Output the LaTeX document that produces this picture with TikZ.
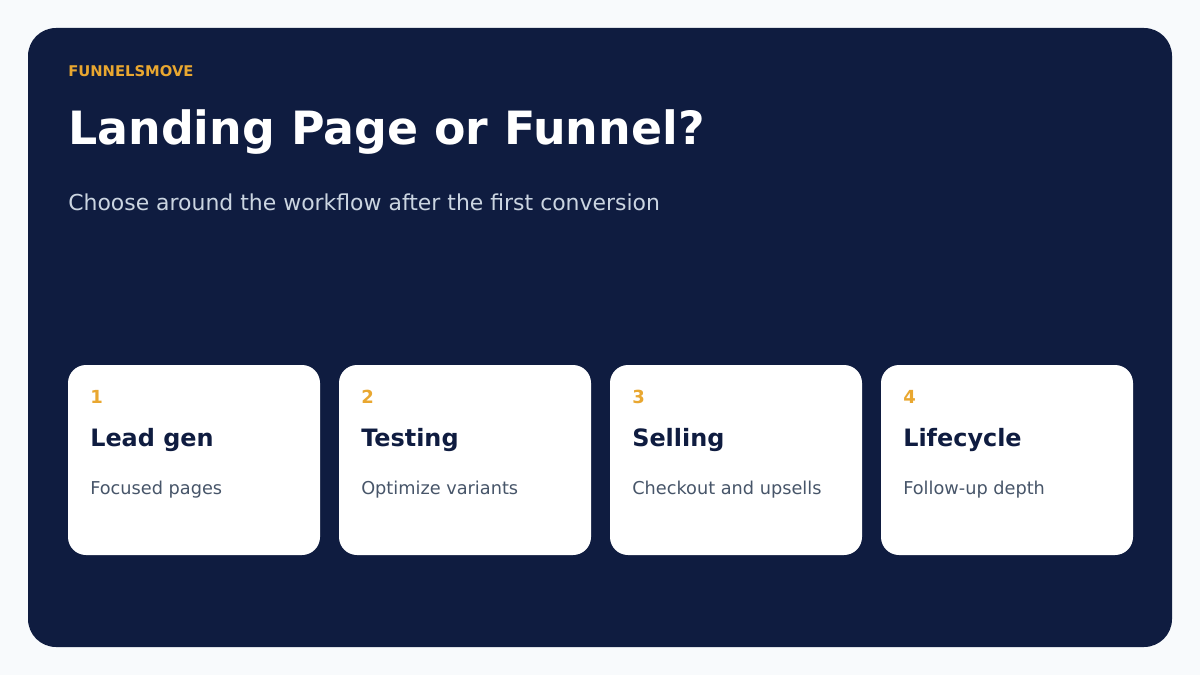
\documentclass[tikz,border=0pt]{standalone}
\usepackage{fontspec}
\setmainfont{DejaVu Sans}
\usetikzlibrary{positioning}
\definecolor{pagebg}{HTML}{F8FAFC}
\definecolor{navy}{HTML}{0F1C40}
\definecolor{amber}{HTML}{E9A730}
\definecolor{subtle}{HTML}{CBD5E1}
\definecolor{slate}{HTML}{475569}

\begin{document}
\begin{tikzpicture}[x=0.025cm, y=-0.025cm]
    % styles
    \tikzset{
        panel/.style={fill=navy, rounded corners=0.7cm},
        card/.style={fill=white, rounded corners=0.45cm},
        txt/.style={anchor=base west, inner sep=0pt},
        num/.style={txt, text=amber, font=\bfseries\fontsize{12.8}{14}\selectfont},
        head/.style={txt, text=navy, font=\bfseries\fontsize{17}{20}\selectfont},
        desc/.style={txt, text=slate, font=\fontsize{12.6}{15}\selectfont}
    }

    % background
    \fill[pagebg] (0,0) rectangle (1200,675);
    \fill[panel] (28,28) rectangle (1172,647);

    % header
    \node[txt, text=amber, font=\bfseries\fontsize{10.5}{12}\selectfont] (brand) at (68,77) {FUNNELSMOVE};
    \node[txt, text=white, font=\bfseries\fontsize{32.6}{40}\selectfont] (title) at (68,145) {Landing Page or Funnel?};
    \node[txt, text=subtle, font=\fontsize{15.6}{18}\selectfont] (subtitle) at (68,210) {Choose around the workflow after the first conversion};

    % cards
    \foreach \i/\x/\name/\sub in {1/68/Lead gen/Focused pages,
                                  2/339/Testing/Optimize variants,
                                  3/610/Selling/Checkout and upsells,
                                  4/881/Lifecycle/Follow-up depth}{
        \fill[card] (\x,365) rectangle ++(252,190);
        \node[num] (num\i) at (\x+22,403) {\i};
        \node[head] (head\i) at (\x+22,446) {\name};
        \node[desc] (desc\i) at (\x+22,494) {\sub};
    }
\end{tikzpicture}
\end{document}
